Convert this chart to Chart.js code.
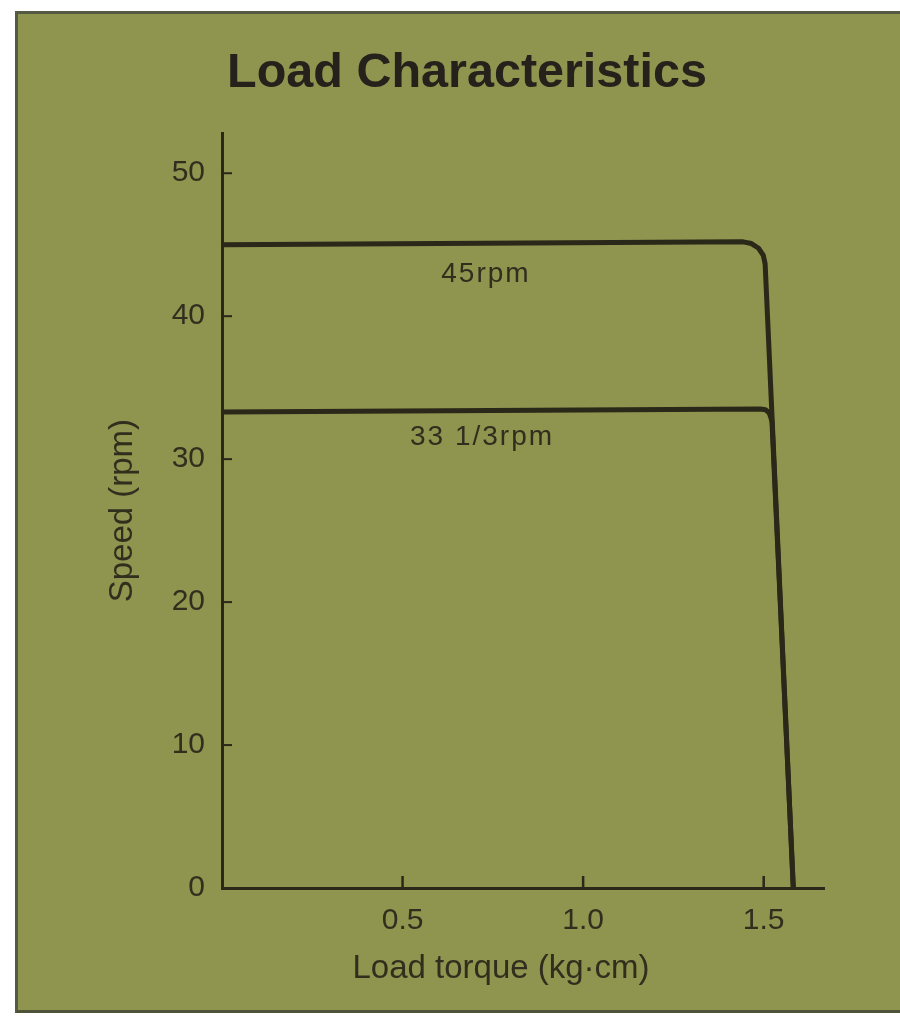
<!DOCTYPE html>
<html>
<head>
<meta charset="utf-8">
<script src="https://cdn.jsdelivr.net/npm/chart.js@4/dist/chart.umd.min.js"></script>
<style>
    body { margin: 0; background: #ffffff; }
    #page { position: relative; width: 900px; height: 1016px; overflow: hidden; }
    #panel {
        position: absolute; left: 15px; top: 11px; width: 885px; height: 1002px;
        background: #8f944f;
        border-left: 3px solid #555a45; border-top: 3px solid #555a45; border-bottom: 3px solid #4d5238;
        box-sizing: border-box;
    }
    #chartBox { position: absolute; left: 0; top: 0; width: 900px; height: 1016px; }
</style>
</head>
<body>
<div id="page">
    <div id="panel"></div>
    <div id="chartBox"><canvas id="loadChart" width="900" height="1016"></canvas></div>
</div>
<script>
// values (load torque in kg-cm, speed in rpm)
const torque45 = [0, 1.443, 1.466, 1.486, 1.499, 1.504, 1.582];
const speed45 = [45.0, 45.2, 45.08, 44.75, 44.25, 43.66, 0];
const torque33 = [0, 1.49, 1.505, 1.515, 1.52, 1.523, 1.582];
const speed33 = [33.3, 33.5, 33.45, 33.25, 32.9, 32.6, 0];

const curveNames = ["45rpm", "33 1/3rpm"];
const curveLabelTorque = [0.731, 0.72];
const curveLabelSpeed = [42.9, 31.5];

const xTicks = [0.5, 1.0, 1.5];
const yTicks = [0, 10, 20, 30, 40, 50];
const xMax = 1.667;
const yMax = 52.8;
const xTitle = "Load torque (kg·cm)";

const ink = "#2a2818";
const textInk = "#302f1e";
const font = "'Liberation Sans', Arial, Helvetica, sans-serif";

function toPoints(xs, ys) {
    return xs.map((x, i) => ({ x: x, y: ys[i] }));
}

// small inward tick marks, the curve names and the x axis title
const extrasPlugin = {
    id: "extras",
    afterDraw(chart) {
        const ctx = chart.ctx;
        const xs = chart.scales.x;
        const ys = chart.scales.y;
        const x0 = xs.getPixelForValue(0);
        const y0 = ys.getPixelForValue(0);
        ctx.save();
        ctx.strokeStyle = ink;
        ctx.lineWidth = 2;
        yTicks.forEach(v => {
            if (v === 0) return;
            const py = ys.getPixelForValue(v);
            ctx.beginPath();
            ctx.moveTo(x0, py);
            ctx.lineTo(x0 + 10, py);
            ctx.stroke();
        });
        ctx.lineWidth = 2.5;
        xTicks.forEach(v => {
            const px = xs.getPixelForValue(v);
            ctx.beginPath();
            ctx.moveTo(px, y0);
            ctx.lineTo(px, y0 - 12);
            ctx.stroke();
        });
        ctx.fillStyle = textInk;
        ctx.textAlign = "center";
        ctx.textBaseline = "middle";

        // axis title sits a little left of the plot centre in the original
        ctx.font = "33px " + font;
        ctx.fillText(xTitle, (xs.left + xs.right) / 2 - 22, y0 + 81);

        ctx.font = "28px " + font;
        ctx.letterSpacing = "2px";
        curveNames.forEach((name, i) => {
            ctx.fillText(name, xs.getPixelForValue(curveLabelTorque[i]), ys.getPixelForValue(curveLabelSpeed[i]));
        });
        ctx.restore();
    }
};

const ctx = document.getElementById("loadChart").getContext("2d");

new Chart(ctx, {
    type: "scatter",
    data: {
        datasets: [
            {
                label: curveNames[0],
                data: toPoints(torque45, speed45),
                showLine: true,
                borderColor: ink,
                borderWidth: 5,
                pointRadius: 0,
                tension: 0,
                borderJoinStyle: "round",
                borderCapStyle: "round"
            },
            {
                label: curveNames[1],
                data: toPoints(torque33, speed33),
                showLine: true,
                borderColor: ink,
                borderWidth: 5,
                pointRadius: 0,
                tension: 0,
                borderJoinStyle: "round",
                borderCapStyle: "round"
            }
        ]
    },
    options: {
        responsive: false,
        animation: false,
        layout: { padding: { left: 110, right: 76, top: 0, bottom: 0 } },
        plugins: {
            legend: { display: false },
            tooltip: { enabled: false },
            title: {
                display: true,
                text: "Load Characteristics",
                color: "#24221a",
                font: { family: font, size: 48.5, weight: "bold" },
                padding: { top: 45, bottom: 30 }
            }
        },
        scales: {
            x: {
                type: "linear",
                min: 0,
                max: xMax,
                afterFit: s => { s.height = 128; },
                afterBuildTicks: s => { s.ticks = xTicks.map(v => ({ value: v })); },
                grid: { display: true, drawOnChartArea: false, drawTicks: false },
                border: { display: true, color: ink, width: 3 },
                ticks: {
                    color: textInk,
                    font: { family: font, size: 30 },
                    padding: 15,
                    maxRotation: 0,
                    callback: v => v.toFixed(1)
                },
                title: { display: false }
            },
            y: {
                type: "linear",
                min: 0,
                max: yMax,
                afterFit: s => { s.width = 112; },
                afterBuildTicks: s => { s.ticks = yTicks.map(v => ({ value: v })); },
                grid: { display: true, drawOnChartArea: false, drawTicks: false },
                border: { display: true, color: ink, width: 3 },
                ticks: {
                    color: textInk,
                    font: { family: font, size: 30 },
                    padding: 17,
                    callback: v => String(v)
                },
                title: {
                    display: true,
                    text: "Speed (rpm)",
                    color: textInk,
                    font: { family: font, size: 33, lineHeight: 0.8 },
                    padding: { top: 0, bottom: 0 }
                }
            }
        }
    },
    plugins: [extrasPlugin]
});
</script>
</body>
</html>
